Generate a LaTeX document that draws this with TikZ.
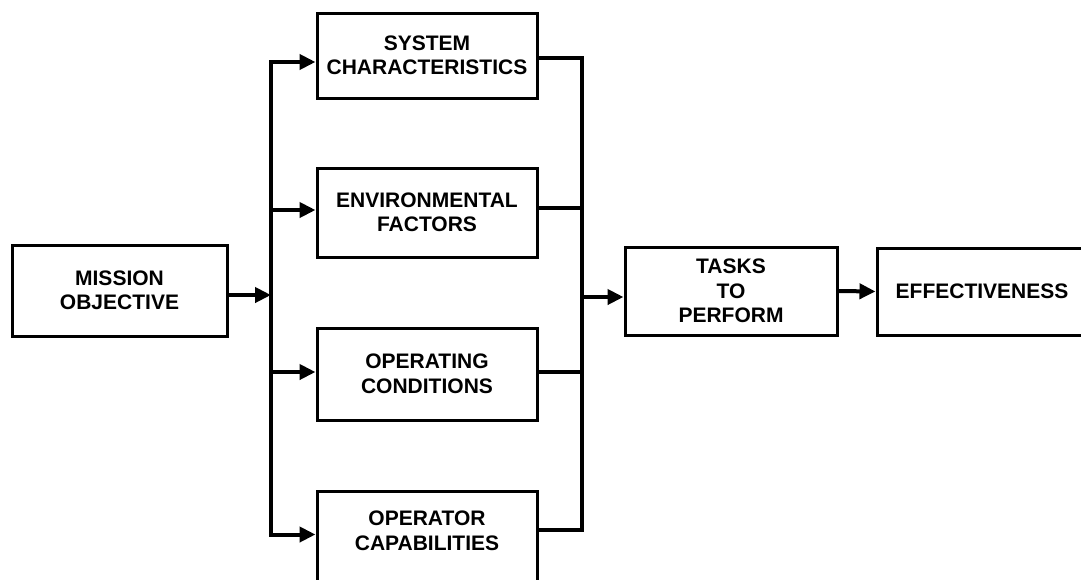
\documentclass[tikz,border=0pt]{standalone}
\usepackage{fontspec}
\setmainfont{Liberation Sans}
\usetikzlibrary{arrows.meta}
\begin{document}
\begin{tikzpicture}[x=1pt,y=-1pt,
  box/.style={draw=black, line width=3pt, fill=white, align=center,
    font=\fontsize{21}{24.5}\selectfont\bfseries, inner sep=0pt},
  conn/.style={draw=black, line width=4pt, line join=miter},
  arr/.style={conn, -{Triangle[length=16pt,width=15pt]}}]
  \useasboundingbox[fill=white] (0,0) rectangle (1081,579);

  % boxes
  \node[box, minimum width=215, minimum height=91] (mission) at (119.5,290.5) {MISSION\\OBJECTIVE};
  \node[box, minimum width=220, minimum height=85] (sys) at (427,55.5) {SYSTEM\\CHARACTERISTICS};
  \node[box, minimum width=220, minimum height=89] (env) at (427,212.5) {ENVIRONMENTAL\\FACTORS};
  \node[box, minimum width=220, minimum height=92] (opc) at (427,374) {OPERATING\\CONDITIONS};
  \node[box, minimum width=220, minimum height=130, anchor=north,
    label={[box, draw=none, fill=none, anchor=center, yshift=-41pt]north:OPERATOR\\CAPABILITIES}]
    (opr) at (427,490) {};
  \node[box, minimum width=212, minimum height=88] (tasks) at (731,291) {TASKS\\TO\\PERFORM};
  \node[box, minimum width=210, minimum height=87] (eff) at (982,291.5) {EFFECTIVENESS};

  % junction points on the two vertical buses
  \coordinate (lb) at (271,295);
  \coordinate (rb) at (582,297);

  % entry points on the left sides, exit points on the right sides
  \coordinate (sysin) at ([yshift=-6.5pt]sys.west);
  \coordinate (envin) at ([yshift=2.5pt]env.west);
  \coordinate (opcin) at ([yshift=2pt]opc.west);
  \coordinate (oprin) at ([yshift=22pt]opr.west);
  \coordinate (sysout) at ([yshift=-2.5pt]sys.east);
  \coordinate (envout) at ([yshift=4.5pt]env.east);
  \coordinate (opcout) at ([yshift=2pt]opc.east);
  \coordinate (oprout) at ([yshift=27pt]opr.east);
  \coordinate (misout) at ([yshift=-4.5pt]mission.east);

  % mission objective feeds the left bus
  \draw[arr] (misout) -- (misout -| lb);
  \draw[arr] (lb) |- (sysin);
  \draw[arr] (lb) |- (envin);
  \draw[arr] (lb) |- (opcin);
  \draw[arr] (lb) |- (oprin);

  % factors gather on the right bus
  \draw[conn] (sysout) -| (rb);
  \draw[conn] (envout) -| (rb);
  \draw[conn] (opcout) -| (rb);
  \draw[conn] (oprout) -| (rb);

  \draw[arr] (rb) -- (rb -| tasks.west);
  \draw[arr] (tasks.east) -- (eff.west);
\end{tikzpicture}
\end{document}
